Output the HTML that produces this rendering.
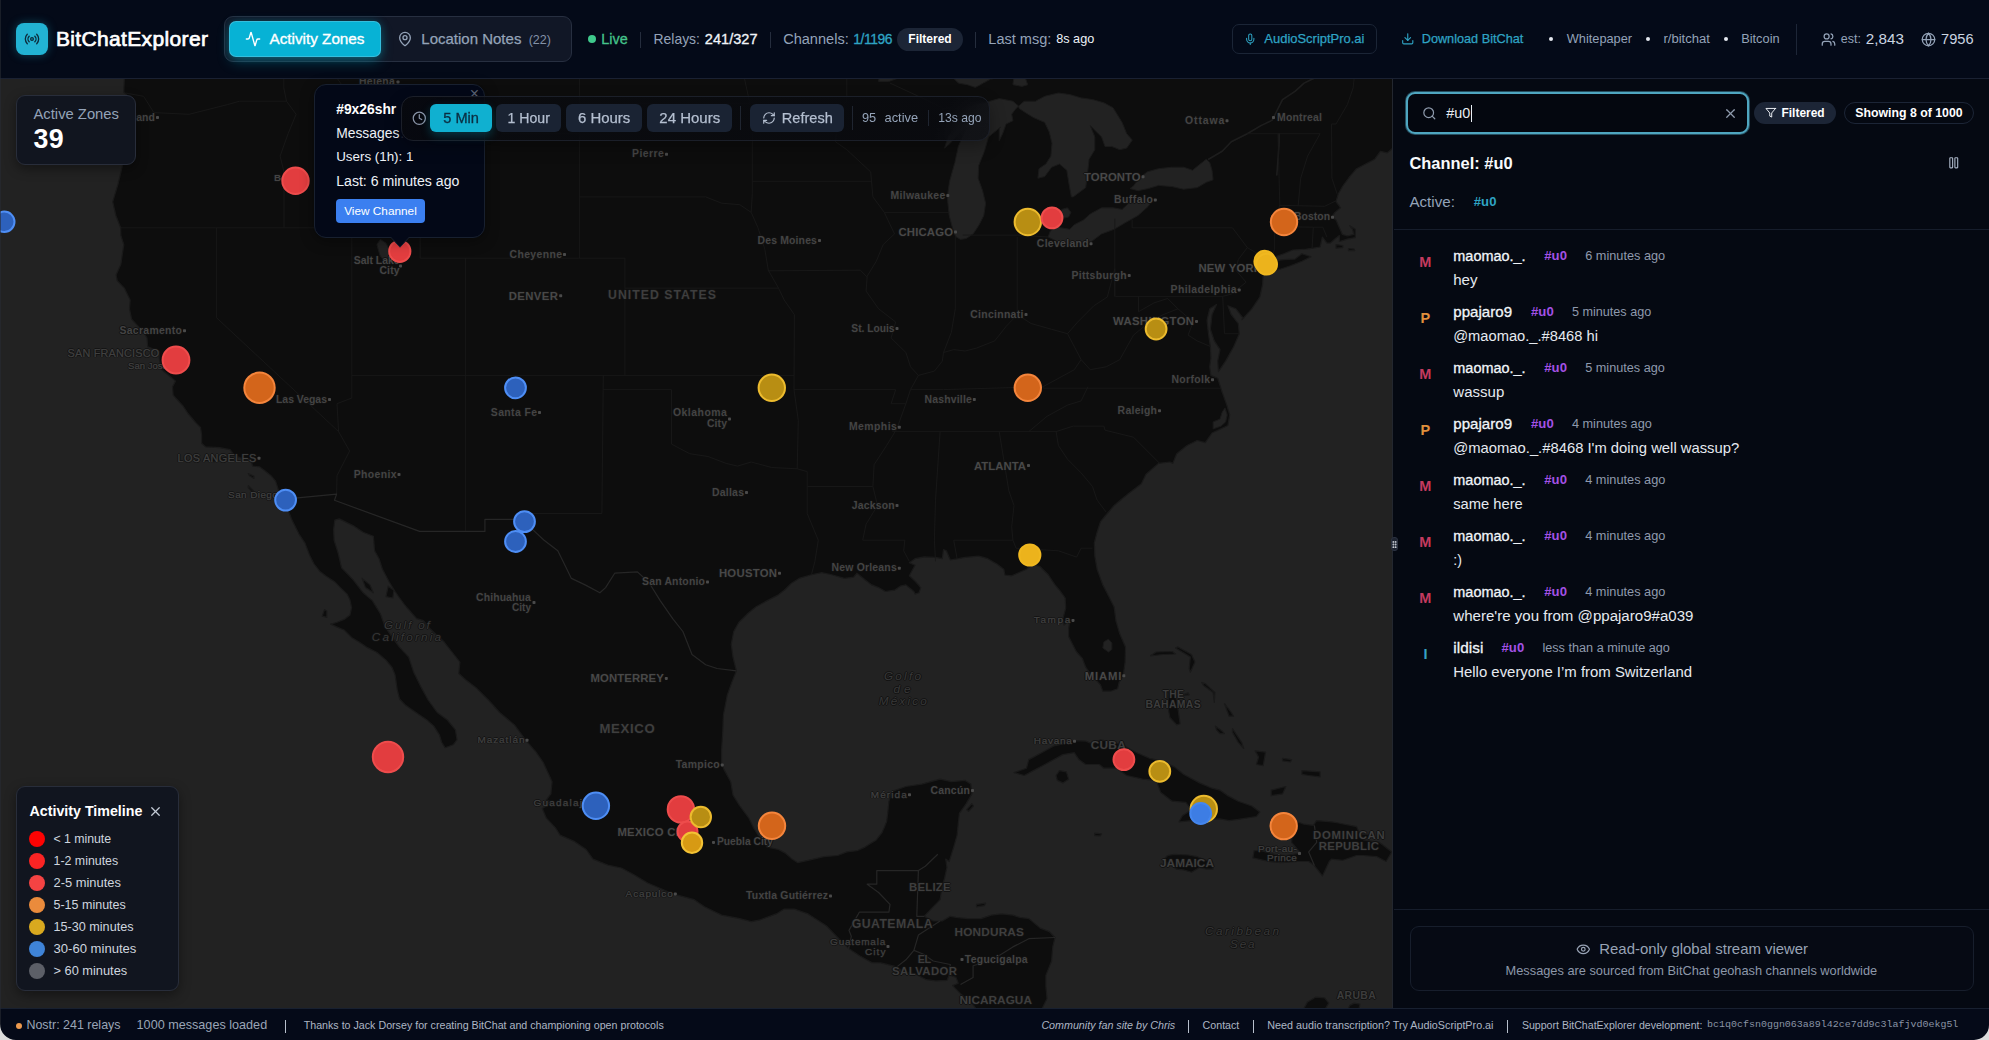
<!DOCTYPE html>
<html lang="en"><head><meta charset="utf-8"><title>BitChatExplorer</title>
<meta name="viewport" content="width=1989">
<style>
html,body{margin:0;padding:0;background:#050a18;}
body{width:1989px;height:1040px;overflow:hidden;position:relative;font-family:"Liberation Sans",sans-serif;-webkit-font-smoothing:antialiased;}
#app{position:absolute;left:0;top:0;width:1989px;height:1040px;overflow:hidden;}
.b{position:absolute;box-sizing:border-box;}
.t{position:absolute;white-space:pre;margin:0;padding:0;font-weight:400;}
.i{position:absolute;display:block;overflow:visible;}
h1,h2,p{margin:0;}
#map{position:absolute;left:0;top:79px;width:1392px;height:930px;overflow:hidden;background:#222222;}
.corner{position:absolute;width:14px;height:14px;bottom:0;}
</style></head>
<body><div id="app">
<header class="b" style="left:0;top:0;width:1989px;height:79px;background:#040a18;border-bottom:1px solid #1a2132;">
<div class="b" style="left:16.00px;top:23.00px;width:32.00px;height:32.00px;background:#22b3d3;border-radius:8px;box-shadow:0 0 10px rgba(34,179,211,.35);"><svg class="i" style="left:8.00px;top:8.00px;" width="16" height="16" viewBox="0 0 24 24" fill="none" stroke="#0c2a3a" stroke-width="2" stroke-linecap="round" stroke-linejoin="round"><path d="M16.247 7.761a6 6 0 0 1 0 8.478"/><path d="M19.075 4.933a10 10 0 0 1 0 14.134"/><path d="M4.925 19.067a10 10 0 0 1 0-14.134"/><path d="M7.753 16.239a6 6 0 0 1 0-8.478"/><circle cx="12" cy="12" r="2"/></svg></div>
<h1 class="t" style="left:55.95px;top:25.20px;font-size:21.0px;line-height:28px;color:#ffffff;letter-spacing:0.350px;-webkit-text-stroke:0.7px #ffffff;">BitChatExplorer</h1>
<div class="b" style="left:224.00px;top:16.00px;width:348.00px;height:46.00px;background:#111726;border:1px solid #272f40;border-radius:9px;box-sizing:border-box;"></div>
<div class="b" style="left:229.00px;top:21.00px;width:152.00px;height:36.00px;background:#07b2d5;border:1px solid rgba(110,205,230,.45);border-radius:7px;box-shadow:0 6px 14px -2px rgba(6,182,212,.35),0 0 8px rgba(6,182,212,.25);"></div>
<svg class="i" style="left:245.20px;top:31.20px;" width="16" height="16" viewBox="0 0 24 24" fill="none" stroke="#ffffff" stroke-width="2" stroke-linecap="round" stroke-linejoin="round"><path d="M22 12h-2.48a2 2 0 0 0-1.93 1.46l-2.35 8.36a.25.25 0 0 1-.48 0L9.24 2.18a.25.25 0 0 0-.48 0l-2.35 8.36A2 2 0 0 1 4.49 12H2"/></svg>
<span class="t" style="left:269.48px;top:29.20px;font-size:15.27px;line-height:20px;color:#ffffff;-webkit-text-stroke:0.35px #ffffff;">Activity Zones</span>
<svg class="i" style="left:397.00px;top:31.20px;" width="16" height="16" viewBox="0 0 24 24" fill="none" stroke="#94a3b8" stroke-width="2" stroke-linecap="round" stroke-linejoin="round"><path d="M20 10c0 4.993-5.539 10.193-7.399 11.799a1 1 0 0 1-1.202 0C9.539 20.193 4 14.993 4 10a8 8 0 0 1 16 0"/><circle cx="12" cy="10" r="3"/></svg>
<span class="t" style="left:421.32px;top:29.20px;font-size:15.0px;line-height:20px;color:#94a3b8;-webkit-text-stroke:0.25px #94a3b8;">Location Notes</span>
<span class="t" style="left:528.70px;top:30.60px;font-size:12.53px;line-height:18px;color:#8491a6;">(22)</span>
<div class="b" style="left:587.70px;top:35.20px;width:8.00px;height:8.00px;background:#3fc98c;border-radius:50%;"></div>
<span class="t" style="left:601.35px;top:29.20px;font-size:14.43px;line-height:20px;color:#45c48b;-webkit-text-stroke:0.3px #45c48b;">Live</span>
<div class="b" style="left:639.90px;top:31.50px;width:1.00px;height:16.00px;background:#252d3d;"></div>
<div class="b" style="left:770.00px;top:31.50px;width:1.00px;height:16.00px;background:#252d3d;"></div>
<div class="b" style="left:974.50px;top:31.50px;width:1.00px;height:16.00px;background:#252d3d;"></div>
<span class="t" style="left:653.50px;top:29.20px;font-size:13.93px;line-height:20px;color:#94a3b8;">Relays:</span>
<span class="t" style="left:704.85px;top:29.20px;font-size:14.57px;line-height:20px;color:#f1f5f9;-webkit-text-stroke:0.3px #f1f5f9;">241/327</span>
<span class="t" style="left:783.20px;top:29.20px;font-size:14.56px;line-height:20px;color:#94a3b8;">Channels:</span>
<span class="t" style="left:853.35px;top:29.20px;font-size:13.87px;line-height:20px;color:#2fa4c4;letter-spacing:-0.447px;-webkit-text-stroke:0.3px #2fa4c4;">1/1196</span>
<div class="b" style="left:897.40px;top:27.50px;width:65.20px;height:23.00px;background:#1c2536;border-radius:12px;"></div>
<span class="t" style="left:908.30px;top:29.80px;font-size:12.02px;line-height:18px;color:#ffffff;font-weight:700;">Filtered</span>
<span class="t" style="left:988.30px;top:29.20px;font-size:14.55px;line-height:20px;color:#94a3b8;">Last msg:</span>
<span class="t" style="left:1056.20px;top:30.20px;font-size:12.7px;line-height:18px;color:#eef2f7;">8s ago</span>
<div class="b" style="left:1231.50px;top:24.00px;width:145.50px;height:29.50px;border:1px solid #1b2536;border-radius:7px;box-sizing:border-box;"></div>
<svg class="i" style="left:1244.35px;top:32.75px;" width="12.5" height="12.5" viewBox="0 0 24 24" fill="none" stroke="#2fa4c4" stroke-width="2" stroke-linecap="round" stroke-linejoin="round"><path d="M12 19v3"/><path d="M19 10v2a7 7 0 0 1-14 0v-2"/><rect x="9" y="2" width="6" height="13" rx="3"/></svg>
<span class="t" style="left:1264.33px;top:29.80px;font-size:12.96px;line-height:18px;color:#2fa4c4;-webkit-text-stroke:0.25px #2fa4c4;">AudioScriptPro.ai</span>
<svg class="i" style="left:1401.05px;top:32.25px;" width="13.5" height="13.5" viewBox="0 0 24 24" fill="none" stroke="#2fa4c4" stroke-width="2" stroke-linecap="round" stroke-linejoin="round"><path d="M12 15V3"/><path d="M21 15v4a2 2 0 0 1-2 2H5a2 2 0 0 1-2-2v-4"/><path d="m7 10 5 5 5-5"/></svg>
<span class="t" style="left:1421.72px;top:29.80px;font-size:12.7px;line-height:18px;color:#2fa4c4;-webkit-text-stroke:0.25px #2fa4c4;">Download BitChat</span>
<div class="b" style="left:1549.10px;top:37.00px;width:4.00px;height:4.00px;background:#e5e9f0;border-radius:50%;"></div>
<div class="b" style="left:1645.50px;top:37.00px;width:4.00px;height:4.00px;background:#e5e9f0;border-radius:50%;"></div>
<div class="b" style="left:1723.50px;top:37.00px;width:4.00px;height:4.00px;background:#e5e9f0;border-radius:50%;"></div>
<span class="t" style="left:1566.80px;top:29.80px;font-size:12.76px;line-height:18px;color:#94a3b8;">Whitepaper</span>
<span class="t" style="left:1663.50px;top:29.80px;font-size:13.06px;line-height:18px;color:#94a3b8;">r/bitchat</span>
<span class="t" style="left:1741.20px;top:29.80px;font-size:12.8px;line-height:18px;color:#94a3b8;">Bitcoin</span>
<div class="b" style="left:1795.80px;top:23.50px;width:1.00px;height:31.50px;background:#1d2637;"></div>
<svg class="i" style="left:1821.10px;top:31.50px;" width="15" height="15" viewBox="0 0 24 24" fill="none" stroke="#94a3b8" stroke-width="2" stroke-linecap="round" stroke-linejoin="round"><path d="M16 21v-2a4 4 0 0 0-4-4H6a4 4 0 0 0-4 4v2"/><path d="M16 3.128a4 4 0 0 1 0 7.744"/><path d="M22 21v-2a4 4 0 0 0-3-3.87"/><circle cx="9" cy="7" r="4"/></svg>
<span class="t" style="left:1840.80px;top:30.00px;font-size:12.48px;line-height:18px;color:#94a3b8;">est:</span>
<span class="t" style="left:1865.80px;top:29.00px;font-size:15.23px;line-height:20px;color:#cbd5e1;letter-spacing:0.031px;">2,843</span>
<svg class="i" style="left:1921.10px;top:31.50px;" width="15" height="15" viewBox="0 0 24 24" fill="none" stroke="#94a3b8" stroke-width="2" stroke-linecap="round" stroke-linejoin="round"><circle cx="12" cy="12" r="10"/><path d="M12 2a14.5 14.5 0 0 0 0 20 14.5 14.5 0 0 0 0-20"/><path d="M2 12h20"/></svg>
<span class="t" style="left:1941.10px;top:29.00px;font-size:14.64px;line-height:20px;color:#cbd5e1;">7956</span>
</header>
<main id="map">
<svg class="i" style="left:0;top:0" width="1393" height="930" viewBox="0 0 1393 930">
<rect width="1393" height="930" fill="#222222"/>
<path d="M114.0 -113.9 L121.5 -10.9 L124.3 -0.9 L123.8 13.3 L126.5 15.6 L126.1 25.5 L126.1 38.5 L125.2 54.7 L123.8 67.5 L122.5 86.6 L117.9 105.5 L112.7 122.9 L115.9 136.5 L120.6 148.8 L120.9 156.5 L123.8 165.6 L122.0 177.7 L120.9 185.2 L116.1 196.0 L117.2 201.7 L124.3 209.1 L130.2 221.0 L129.5 229.8 L131.6 240.1 L143.6 253.2 L147.0 259.0 L147.7 267.7 L155.0 270.6 L159.5 272.9 L159.1 279.2 L161.8 290.7 L169.8 297.2 L175.5 302.1 L172.5 307.7 L173.2 316.2 L183.4 327.5 L188.0 334.5 L196.4 344.3 L200.5 348.5 L201.6 355.4 L201.6 364.3 L205.7 367.9 L219.8 368.7 L230.1 370.6 L234.2 376.1 L240.3 378.9 L250.6 380.2 L252.6 387.1 L259.7 387.9 L264.2 391.2 L271.0 396.7 L275.6 402.1 L278.6 411.6 L279.2 416.5 L282.0 420.3 L287.0 428.1 L291.5 439.9 L299.0 455.1 L305.0 464.1 L309.5 476.0 L314.1 485.0 L320.0 492.6 L325.9 497.1 L335.0 503.1 L340.9 509.1 L347.1 515.1 L350.0 521.0 L351.6 528.6 L350.0 536.0 L344.1 540.4 L336.6 543.5 L330.7 545.1 L336.6 547.9 L344.1 551.0 L351.6 558.4 L359.1 563.0 L368.0 568.9 L377.1 573.5 L386.0 581.1 L392.1 588.5 L395.1 596.0 L396.4 604.9 L397.3 610.9 L399.6 620.0 L405.3 626.0 L416.0 633.5 L426.9 641.0 L433.7 646.9 L439.4 655.9 L441.7 663.3 L445.1 668.7 L453.1 665.8 L457.0 660.8 L455.4 650.9 L447.4 641.0 L437.2 633.5 L428.1 621.0 L421.2 608.4 L413.7 593.3 L408.7 578.1 L399.2 567.9 L391.7 557.6 L384.8 547.4 L380.3 534.5 L372.3 521.6 L363.2 513.8 L353.0 500.7 L341.6 488.9 L338.2 474.4 L334.1 461.2 L333.6 450.6 L334.8 441.2 L339.3 439.9 L353.0 446.6 L363.2 453.2 L373.4 457.2 L374.6 471.8 L379.1 479.7 L382.5 490.2 L389.4 503.3 L395.1 512.5 L399.6 519.0 L406.4 528.0 L416.7 539.7 L423.5 541.7 L430.3 549.9 L444.0 562.8 L452.0 573.0 L459.9 583.1 L458.8 594.5 L465.6 600.8 L475.8 608.4 L488.4 621.0 L499.7 633.5 L514.5 645.9 L525.5 660.8 L536.1 673.2 L543.0 683.0 L548.7 695.3 L552.1 702.7 L550.9 714.9 L546.4 720.9 L552.1 723.4 L542.3 729.5 L546.4 739.2 L555.5 748.8 L560.0 756.1 L573.7 762.1 L586.2 770.5 L593.0 780.1 L607.8 786.1 L621.5 789.0 L634.0 795.7 L647.7 804.0 L664.7 811.2 L673.8 815.2 L694.3 820.7 L704.5 827.8 L721.6 836.1 L739.8 839.6 L751.2 842.7 L760.3 840.8 L776.2 834.9 L784.2 830.1 L794.4 830.1 L808.1 834.9 L826.3 846.7 L837.7 858.5 L848.6 869.6 L860.4 877.3 L871.8 883.6 L880.9 883.9 L896.8 887.9 L903.7 892.5 L915.0 894.9 L926.4 900.7 L935.5 901.9 L946.9 901.4 L949.2 896.1 L956.0 898.4 L958.3 904.2 L952.6 906.6 L960.5 914.7 L971.9 924.1 L978.7 933.4 L994.7 951.9 L1012.9 963.5 L1047.0 963.5 L1041.3 951.9 L1042.5 938.0 L1042.5 928.7 L1047.0 919.4 L1045.9 907.7 L1045.9 896.1 L1051.6 882.0 L1052.7 867.9 L1055.0 858.5 L1049.3 852.6 L1040.2 849.1 L1028.8 839.6 L1019.7 838.4 L1012.9 836.1 L1001.5 834.9 L991.3 836.1 L981.0 839.6 L967.4 839.6 L956.0 838.4 L950.3 837.3 L942.3 842.0 L933.2 842.0 L924.1 837.3 L931.0 830.1 L940.1 820.7 L942.3 806.4 L944.6 799.2 L946.9 788.5 L945.7 780.1 L949.2 782.5 L953.7 768.1 L957.1 756.1 L958.3 744.0 L959.4 734.3 L966.2 724.6 L971.9 714.9 L970.8 705.1 L965.1 701.4 L951.4 702.7 L940.1 700.2 L921.9 705.1 L905.9 707.5 L892.3 712.4 L888.9 722.2 L887.7 734.3 L886.6 742.8 L882.0 753.7 L876.3 760.9 L865.0 768.1 L857.0 771.7 L846.8 772.9 L837.7 776.5 L824.0 777.7 L808.1 781.3 L797.8 783.7 L792.1 780.1 L785.3 774.1 L778.5 770.5 L767.1 768.1 L759.6 758.5 L753.5 748.8 L748.9 739.2 L739.8 727.0 L733.0 716.1 L730.7 702.7 L723.9 690.4 L721.6 684.3 L721.6 670.7 L722.7 653.4 L723.4 636.0 L727.3 615.9 L731.8 603.4 L736.4 591.8 L733.0 578.1 L731.2 565.3 L733.7 552.5 L738.7 543.5 L747.8 534.5 L755.7 528.0 L764.8 522.9 L777.4 516.4 L784.2 511.2 L791.0 504.6 L799.0 499.4 L810.4 496.0 L821.7 493.7 L830.8 495.5 L844.5 499.4 L853.6 498.1 L857.0 494.2 L865.0 500.7 L871.8 505.9 L878.6 508.6 L885.4 512.5 L894.5 511.2 L900.2 507.2 L905.9 505.9 L913.9 512.5 L915.0 515.1 L919.1 513.8 L920.7 508.6 L915.0 502.0 L909.3 496.8 L912.8 490.2 L915.0 486.3 L909.3 483.7 L915.0 479.7 L924.1 477.9 L935.5 478.4 L942.3 479.7 L943.5 470.5 L946.4 471.8 L950.3 481.0 L958.3 479.7 L965.1 478.4 L978.7 477.1 L987.8 479.7 L996.9 485.0 L1003.8 490.2 L1004.9 496.0 L1011.7 496.8 L1017.4 494.2 L1026.5 490.2 L1032.2 485.5 L1040.2 487.6 L1048.1 495.5 L1055.0 505.9 L1059.5 511.2 L1065.2 519.0 L1065.7 529.3 L1062.9 539.7 L1064.1 546.1 L1069.8 540.9 L1068.6 549.9 L1068.6 557.6 L1073.2 566.6 L1076.6 573.0 L1082.3 579.3 L1085.7 588.2 L1090.2 594.5 L1100.5 605.9 L1102.8 612.2 L1110.7 612.2 L1117.6 609.7 L1119.1 603.4 L1123.2 596.6 L1125.1 583.1 L1125.5 567.9 L1119.8 555.1 L1116.0 542.2 L1114.1 528.0 L1109.6 519.0 L1102.8 505.9 L1097.1 490.2 L1094.8 477.1 L1094.3 463.9 L1097.1 453.2 L1100.5 442.6 L1107.3 434.5 L1114.1 426.5 L1122.1 419.7 L1128.9 414.3 L1141.4 404.8 L1146.0 395.3 L1158.5 384.4 L1169.9 383.0 L1172.8 384.4 L1176.7 374.7 L1187.0 366.5 L1197.2 361.5 L1205.2 363.7 L1212.0 354.0 L1227.9 346.5 L1229.7 335.9 L1226.8 326.1 L1222.2 313.4 L1217.7 299.2 L1210.9 296.4 L1209.7 287.8 L1210.9 279.2 L1210.4 267.7 L1208.6 256.1 L1207.0 241.5 L1209.7 229.8 L1216.5 225.4 L1212.0 235.7 L1210.4 250.3 L1214.3 261.9 L1220.0 270.6 L1217.7 282.1 L1218.4 292.7 L1225.6 282.1 L1233.6 267.7 L1239.3 254.7 L1238.2 244.5 L1231.3 235.7 L1227.9 226.9 L1235.9 229.8 L1242.7 238.6 L1242.0 240.7 L1251.8 229.8 L1259.8 218.0 L1262.5 206.1 L1263.2 195.7 L1258.6 192.7 L1262.1 189.7 L1265.5 192.1 L1276.8 191.2 L1290.5 186.7 L1301.9 182.2 L1311.0 177.7 L1301.9 174.7 L1295.0 180.1 L1283.7 180.7 L1272.3 182.2 L1271.2 179.2 L1283.7 174.7 L1292.8 171.0 L1306.4 170.1 L1313.3 169.2 L1320.1 168.0 L1322.4 158.0 L1326.9 164.1 L1330.3 164.1 L1333.7 161.0 L1339.4 156.5 L1339.4 162.5 L1347.4 160.1 L1355.3 158.6 L1355.3 150.3 L1349.7 146.7 L1352.6 150.3 L1353.8 155.5 L1347.4 156.8 L1342.4 155.5 L1339.4 148.8 L1336.0 141.1 L1331.5 138.1 L1334.9 133.4 L1340.6 128.8 L1336.0 122.6 L1338.3 114.8 L1342.8 107.0 L1349.7 97.6 L1356.5 89.7 L1365.6 85.0 L1374.7 80.2 L1380.4 72.3 L1387.2 73.9 L1392.9 69.1 L1404.3 67.5 L1422.5 61.1 L1433.9 48.2 L1490.7 22.2 L1581.8 -113.9Z M1014.0 693.6 L1026.5 689.2 L1028.8 680.6 L1042.5 673.2 L1053.8 667.0 L1065.2 664.5 L1073.0 661.6 L1085.7 662.1 L1091.4 664.5 L1100.5 660.8 L1113.0 663.3 L1124.4 667.0 L1135.8 673.2 L1149.4 679.3 L1160.8 681.8 L1174.4 687.9 L1183.5 695.3 L1190.4 699.0 L1199.5 703.9 L1210.9 708.8 L1220.0 711.2 L1226.8 716.1 L1238.2 722.2 L1251.8 727.0 L1259.8 733.1 L1256.4 737.5 L1238.2 740.4 L1229.1 741.6 L1220.0 739.9 L1204.0 740.4 L1179.0 742.8 L1182.4 736.7 L1191.5 730.7 L1185.8 723.4 L1172.2 722.2 L1160.8 713.6 L1156.2 701.4 L1142.6 700.2 L1126.7 696.5 L1116.4 689.2 L1103.9 689.2 L1099.3 685.5 L1085.7 685.5 L1078.9 680.6 L1074.3 673.7 L1062.9 675.6 L1051.6 681.8 L1042.5 686.7 L1033.4 691.6 L1024.3 696.5Z M1062.9 703.9 L1068.6 700.2 L1066.4 692.9 L1059.5 691.6 L1056.1 696.5 L1057.3 701.4Z M1276.8 744.0 L1290.5 740.4 L1304.1 745.2 L1313.3 746.4 L1316.7 741.6 L1331.5 742.8 L1338.3 744.0 L1356.5 747.6 L1359.9 754.9 L1372.4 756.1 L1363.3 760.9 L1379.2 763.3 L1391.8 772.9 L1386.1 782.5 L1377.0 777.7 L1363.3 776.5 L1356.5 776.5 L1342.8 781.3 L1331.5 780.1 L1329.2 782.5 L1322.4 796.9 L1314.4 786.6 L1308.7 782.5 L1297.3 782.5 L1281.4 783.7 L1268.9 782.5 L1252.9 778.9 L1254.1 771.7 L1260.9 771.7 L1274.6 775.3 L1285.9 776.5 L1300.7 774.1 L1291.6 763.3 L1292.8 752.5 L1285.9 747.6 L1276.8 746.4Z M1164.2 780.1 L1167.6 776.5 L1174.4 775.3 L1188.1 776.0 L1197.2 777.7 L1206.3 781.3 L1212.0 783.7 L1213.1 790.2 L1206.3 790.2 L1199.5 788.5 L1191.5 793.3 L1183.5 790.9 L1176.7 790.2 L1171.0 786.1 L1165.3 782.5Z M1168.8 613.4 L1172.2 612.2 L1176.7 621.0 L1178.5 633.5 L1180.1 644.7 L1176.7 645.9 L1169.9 638.5 L1167.6 626.0Z M1150.5 576.8 L1156.2 573.0 L1172.2 572.5 L1175.6 575.0 L1163.1 575.5Z M1177.9 567.9 L1191.5 575.5 L1194.9 583.1 L1190.4 593.3 L1189.2 589.5 L1190.4 578.1 L1175.6 569.1Z M1201.7 603.4 L1205.2 604.6 L1214.9 613.4 L1214.3 623.5 L1213.1 613.4 L1203.6 606.4Z M1182.4 615.9 L1188.1 613.9 L1189.2 615.9 L1183.5 616.5Z M1224.5 624.7 L1231.3 633.5 L1233.6 637.2 L1229.1 637.2 L1226.8 631.0Z M1232.5 649.7 L1241.6 663.3 L1243.8 669.5 L1238.2 663.3 L1232.5 653.4Z M1215.4 647.2 L1222.2 652.1 L1224.5 654.6 L1220.0 654.6 L1216.5 650.9Z M1255.2 671.9 L1265.5 673.2 L1263.2 686.7 L1256.4 685.5 L1258.6 678.1Z M1271.2 711.2 L1285.9 707.5 L1282.5 714.9 L1271.2 716.6Z M1282.5 679.3 L1291.6 680.6 L1290.5 683.0 L1282.5 681.8Z M1301.9 691.6 L1320.1 692.9 L1320.1 697.8 L1308.7 696.5 L1301.9 695.3Z M971.9 724.6 L973.5 727.0 L968.5 732.4 L966.7 730.7Z M388.2 507.2 L393.9 511.2 L392.8 519.0 L386.0 517.7Z M362.1 499.4 L370.0 505.9 L373.4 513.8 L365.5 508.6Z M324.5 530.6 L326.8 531.9 L326.8 538.4 L322.2 537.1Z M1336.0 165.6 L1342.8 166.5 L1342.8 168.6 L1336.0 169.2Z M1348.5 169.5 L1354.2 170.1 L1354.7 171.6 L1348.5 171.6Z M218.7 378.3 L226.7 379.4 L225.5 381.1 L219.2 380.8Z M211.4 379.4 L216.4 380.8 L214.2 383.0 L211.4 381.6Z M248.3 394.5 L254.0 397.2 L254.0 399.4 L249.4 396.7Z M248.3 406.7 L253.3 411.6 L251.7 412.4 L248.3 408.9Z M1094.8 754.1 L1101.6 754.9 L1100.5 756.8 L1094.8 756.6Z M1353.1 914.3 L1356.5 915.9 L1356.9 918.9 L1353.1 918.2Z M1354.2 924.1 L1359.9 925.2 L1358.8 931.0 L1361.0 940.3 L1365.6 951.9 L1347.4 951.9 L1349.7 938.0 L1347.4 932.2 L1349.7 926.4Z M1315.5 918.2 L1324.6 918.9 L1328.7 924.1 L1324.6 931.0 L1311.0 940.3 L1292.8 945.0 L1303.0 931.0 L1307.6 922.9Z M985.6 824.2 L976.5 825.4 L976.5 827.8 L984.4 826.6Z" fill="#0d0d0d" stroke="#1a1a1a" stroke-width="1.2" stroke-linejoin="round"/>
<path d="M960.5 160.4 L955.5 157.4 L953.3 151.9 L949.2 136.5 L947.3 117.9 L949.6 102.3 L954.9 83.4 L958.3 67.5 L961.7 59.5 L967.8 46.6 L958.3 54.7 L950.3 64.3 L944.6 69.1 L948.0 57.9 L959.4 41.7 L966.2 30.4 L976.5 25.5 L984.4 23.8 L999.2 19.6 L1012.9 22.2 L1018.6 27.1 L1015.2 30.4 L1011.7 35.3 L1012.9 41.7 L1006.1 45.0 L1002.6 54.7 L999.2 61.7 L999.2 49.8 L1000.4 48.2 L988.5 57.9 L984.4 72.3 L978.7 86.6 L978.1 99.2 L982.6 111.7 L985.6 124.2 L983.8 136.5 L979.2 145.7 L973.1 154.9 L966.2 159.5Z M1018.6 27.1 L1024.3 22.2 L1035.6 22.2 L1044.7 17.3 L1058.4 14.0 L1069.8 15.6 L1081.1 18.9 L1092.5 20.6 L1103.9 23.8 L1113.0 28.7 L1122.1 43.4 L1126.7 54.7 L1132.3 61.1 L1126.7 69.1 L1119.8 70.7 L1111.9 67.5 L1105.0 67.5 L1101.6 57.9 L1090.2 46.6 L1094.8 57.9 L1094.8 70.7 L1089.1 80.2 L1087.5 94.5 L1085.7 108.6 L1073.2 117.9 L1071.4 117.9 L1069.1 105.5 L1066.8 91.3 L1059.5 85.0 L1051.6 88.2 L1044.7 97.6 L1037.9 99.2 L1039.0 89.7 L1045.9 85.0 L1050.9 77.1 L1052.0 64.3 L1049.3 53.1 L1044.7 43.4 L1033.4 38.5 L1025.4 33.6 L1019.2 29.4Z M1048.1 158.0 L1060.7 164.1 L1069.8 165.6 L1081.1 164.1 L1091.4 162.5 L1101.6 154.9 L1114.1 150.3 L1124.4 144.2 L1138.0 136.5 L1148.3 127.3 L1151.7 121.7 L1142.6 122.6 L1128.9 124.2 L1122.1 130.4 L1113.0 128.8 L1101.6 128.8 L1090.2 135.0 L1083.4 141.1 L1074.3 145.7 L1069.8 150.3 L1060.7 148.8 L1056.1 147.3 L1050.4 151.9Z M1061.8 139.6 L1068.6 138.1 L1070.9 133.4 L1067.5 128.8 L1061.8 130.4 L1060.2 135.0Z M1130.1 109.5 L1133.5 107.0 L1139.2 99.2 L1147.1 92.9 L1158.5 89.7 L1172.2 88.2 L1183.5 88.2 L1192.6 91.3 L1198.3 86.6 L1206.3 80.2 L1209.7 83.4 L1212.0 91.3 L1213.1 100.8 L1206.3 103.3 L1197.2 108.6 L1183.5 110.2 L1172.2 107.6 L1158.5 106.4 L1148.3 109.5 L1138.0 111.7Z M851.3 -0.9 L865.0 -4.2 L879.8 -9.2 L878.6 2.4 L888.9 2.4 L912.8 -5.9 L931.0 -17.5 L949.2 -25.9 L944.6 -17.5 L934.4 -4.2 L946.9 -7.5 L958.3 4.1 L967.4 5.7 L975.3 8.4 L983.3 4.1 L990.6 0.1 L1006.1 -2.5 L1014.0 -3.2 L1012.9 5.7 L1022.0 7.4 L1027.7 5.7 L1022.0 -10.9 L990.1 -44.5 L944.6 -78.9 L899.1 -44.5Z M389.4 183.7 L391.7 179.2 L389.8 171.6 L386.0 164.1 L380.3 160.4 L376.9 165.6 L379.8 176.2 L384.4 182.2Z M1108.5 573.0 L1111.9 570.4 L1111.9 564.0 L1108.5 560.2 L1103.9 562.8 L1102.8 569.1Z M1213.1 349.9 L1221.1 347.1 L1225.6 342.9 L1227.2 335.9 L1225.0 328.9 L1222.2 333.1 L1220.0 340.1 L1213.1 342.9Z" fill="#222222" stroke="#1a1a1a" stroke-width="1" stroke-linejoin="round"/>
<path d="M1208.6 80.2 L1222.2 72.3 L1231.3 62.7 L1247.3 54.7 L1260.9 46.6 L1272.3 41.1 L1276.8 32.0 L1282.5 20.6 L1295.0 12.3 L1304.1 4.1 L1317.8 -2.5 L1336.0 -10.9 M1276.8 96.0 L1278.0 80.2 L1279.1 64.3 L1279.1 54.7" fill="none" stroke="#222222" stroke-width="1.6" stroke-linejoin="round" stroke-linecap="round" opacity="0.8"/>
<path d="M120.9 148.8 L420.1 148.8 M125.4 14.0 L143.6 17.3 L153.9 33.6 L189.1 35.3 L227.8 25.5 L239.6 22.2 L286.5 22.2 M283.8 9.0 L286.5 22.2 L296.1 35.3 L288.1 54.7 L280.1 77.1 L284.0 92.9 L284.0 148.8 M283.8 9.0 L283.8 -10.9 M216.4 148.8 L216.4 238.6 L338.6 352.6 M351.8 148.8 L351.8 319.0 L337.0 324.7 L338.6 352.6 L349.6 372.0 L337.0 396.7 L336.6 415.1 M351.8 296.4 L794.0 296.4 M465.6 179.2 L465.6 452.4 M420.1 148.8 L420.1 54.7 M420.1 179.2 L420.1 148.8 M420.1 179.2 L624.9 179.2 M420.1 54.7 L579.4 54.7 M579.4 -0.9 L579.4 179.2 M420.1 70.7 L409.9 69.1 L398.5 62.7 M420.1 70.7 L412.1 64.3 L391.7 69.1 L380.3 72.3 L370.0 61.1 L353.0 38.5 L341.6 32.0 L343.9 9.0 L337.0 -0.9 L323.4 -10.9 M579.4 24.2 L749.8 24.2 M579.4 117.9 L705.7 117.9 L721.6 124.2 L739.8 125.7 L751.2 133.4 M624.9 179.2 L624.9 296.4 M624.9 209.1 L778.5 209.1 M603.3 296.4 L601.9 434.5 M601.9 434.5 L521.4 434.5 M603.3 310.6 L671.5 310.6 L671.5 365.1 L689.7 374.7 L708.0 377.5 L726.2 384.4 L737.5 387.1 L751.2 383.0 L771.7 388.5 L797.2 389.8 M778.5 209.1 L784.2 221.0 L794.4 235.7 L794.0 310.6 L798.3 341.5 L797.2 389.8 L807.2 392.6 L807.2 407.5 L807.2 434.5 L818.3 461.2 L814.9 482.4 L811.5 495.5 M794.0 310.6 L895.7 310.6 L891.1 324.7 L905.9 324.7 M807.2 407.5 L872.9 407.5 M752.3 102.3 L871.3 102.3 M767.8 191.8 L860.4 191.2 L866.8 197.8 M744.4 -0.9 L749.8 24.2 L752.3 45.0 L752.3 102.3 L752.3 114.8 L751.2 133.4 L758.0 148.8 L764.8 170.1 L768.3 191.2 L778.5 209.1 M846.8 -0.9 L846.8 22.2 L833.1 35.3 L836.5 54.7 L835.4 62.7 L846.8 70.7 L870.7 92.9 L872.9 117.9 L884.3 133.4 L894.5 154.9 L883.2 165.6 L876.3 182.2 L867.2 197.2 L866.1 212.1 L878.6 229.8 L895.7 243.0 L891.1 259.0 L905.9 273.5 L910.5 287.8 L918.4 296.4 L910.5 310.6 L905.9 324.7 L896.8 349.9 L886.6 366.5 L874.1 385.7 L872.9 407.5 L877.5 426.5 L866.1 445.2 L862.7 461.2 L904.8 461.2 L903.7 471.8 L909.3 482.4 M918.4 296.4 L934.4 292.1 L942.3 282.1 L943.5 273.5 L953.7 270.6 L965.1 272.0 L976.5 269.1 L994.7 261.9 L1006.1 247.4 L1017.4 235.7 L1031.1 244.5 L1051.6 250.3 L1067.5 254.7 L1077.7 243.0 L1093.7 226.9 L1107.3 218.0 L1114.8 189.7 M955.3 158.0 L955.3 229.8 L951.4 253.2 L943.5 273.5 M1017.2 158.0 L1017.2 235.7 M962.8 156.1 L1017.2 156.1 L1048.1 158.0 M884.3 133.4 L949.2 133.4 M1132.1 140.5 L1132.1 148.8 L1232.5 148.8 L1247.3 168.6 L1238.2 180.7 L1235.9 191.2 L1246.1 203.2 L1231.3 215.1 L1222.7 217.4 L1114.8 217.4 L1114.8 139.6 M1114.8 189.7 L1114.8 217.4 M1247.3 168.6 L1265.5 179.2 M1271.2 179.2 L1274.6 170.1 L1274.6 147.3 L1279.8 125.7 L1279.1 99.2 L1278.0 54.7 M1247.3 54.7 L1320.1 54.7 M1279.8 126.3 L1324.6 127.3 L1335.6 122.0 M1274.6 147.6 L1313.3 148.2 L1322.8 148.2 L1326.9 158.0 M1313.3 148.2 L1312.1 169.2 M1298.2 126.3 L1300.7 99.2 L1307.6 77.1 L1320.1 54.7 M1337.1 114.8 L1331.9 99.2 L1331.5 45.0 L1336.0 45.0 L1347.4 25.5 L1353.1 9.0 L1354.2 -0.9 M1220.6 309.2 L1043.1 309.2 L1043.1 307.7 L943.5 310.6 L910.5 310.6 M1088.0 307.7 L1081.1 321.9 L1067.5 326.1 L1047.0 337.3 L1028.8 352.6 M892.3 352.6 L1056.1 352.6 M940.1 352.6 L935.5 421.1 L934.4 461.2 L935.5 482.4 M999.2 352.6 L1008.8 411.6 L1014.0 426.5 L1011.7 447.9 L1012.9 461.2 L1016.1 469.2 L1058.4 471.8 L1076.6 478.1 L1081.1 469.2 L1092.5 469.2 M953.7 461.2 L1012.9 461.2 M953.7 461.2 L957.1 479.7 M1056.1 352.6 L1058.4 366.5 L1067.5 380.2 L1081.1 393.9 L1092.5 407.5 L1097.1 421.1 L1106.2 433.2 M1073.2 347.1 L1103.9 347.1 L1105.0 351.2 L1133.5 358.2 L1159.7 384.4 M1056.1 352.6 L1073.2 347.1 M1043.1 307.7 L1074.3 290.7 L1081.1 280.6 L1090.2 290.7 L1106.2 287.8 L1119.8 280.6 L1133.5 256.1 L1149.4 243.0 L1163.1 235.7 L1177.9 229.8 L1188.1 238.6 L1193.8 241.5 L1188.1 256.1 L1197.2 261.9 L1210.9 267.7 M1067.5 254.7 L1081.1 280.6 M1138.5 217.4 L1138.5 232.7 L1154.0 223.9 L1167.6 219.5 L1177.9 229.8 M1222.7 217.4 L1224.5 254.7 L1239.3 254.7 M890.0 4.1 L921.9 18.9 L942.3 28.7 L948.0 41.7 L953.7 51.4" fill="none" stroke="#181818" stroke-width="0.9" stroke-linejoin="round"/>
<path d="M282.0 420.3 L336.6 415.1 L334.5 421.3 L419.6 452.4 L484.9 452.4 L484.9 440.4 L523.0 440.4 L532.7 450.6 L544.1 461.2 L557.8 471.8 L566.9 490.2 L571.4 499.4 L585.1 505.9 L599.9 513.8 L605.6 508.6 L614.7 494.2 L637.4 492.9 L648.8 503.3 L660.2 521.6 L672.7 539.7 L682.9 552.5 L692.0 575.5 L705.7 585.7 L717.1 589.5 L736.4 591.8 M848.6 869.6 L851.3 857.3 L849.0 851.4 L859.3 833.2 L888.9 833.2 L890.0 825.4 L878.6 813.5 L867.2 805.2 L876.8 805.2 L876.8 791.6 L918.4 791.6 L925.3 787.3 L937.8 775.3 M918.4 791.6 L916.8 837.3 L924.1 837.3 M940.1 842.0 L918.4 856.1 L913.9 871.4 L905.9 880.8 L896.8 887.9 M913.9 871.4 L923.0 875.0 L933.2 882.0 L950.3 885.5 L949.2 896.1 M960.5 905.4 L973.1 898.4 L973.1 886.7 L992.4 880.8 L1012.9 867.9 L1028.8 859.7 L1055.0 858.5 M1314.4 746.4 L1316.7 763.3 L1308.7 772.9 L1314.4 786.6" fill="none" stroke="#262626" stroke-width="1.2" stroke-linejoin="round"/>
<rect x="396.5" y="1.5" width="3" height="3" rx="0.8" fill="#4a4a4a"/>
<rect x="156.0" y="37.0" width="3" height="3" rx="0.8" fill="#4a4a4a"/>
<rect x="665.0" y="73.8" width="3" height="3" rx="0.8" fill="#4a4a4a"/>
<rect x="563.0" y="174.0" width="3" height="3" rx="0.8" fill="#4a4a4a"/>
<rect x="399.0" y="185.5" width="3" height="3" rx="0.8" fill="#4a4a4a"/>
<rect x="559.2" y="215.3" width="3" height="3" rx="0.8" fill="#4a4a4a"/>
<rect x="183.0" y="250.3" width="3" height="3" rx="0.8" fill="#4a4a4a"/>
<rect x="328.0" y="319.0" width="3" height="3" rx="0.8" fill="#4a4a4a"/>
<rect x="538.0" y="332.0" width="3" height="3" rx="0.8" fill="#4a4a4a"/>
<rect x="728.0" y="338.5" width="3" height="3" rx="0.8" fill="#4a4a4a"/>
<rect x="257.5" y="377.8" width="3" height="3" rx="0.8" fill="#4a4a4a"/>
<rect x="397.5" y="394.0" width="3" height="3" rx="0.8" fill="#4a4a4a"/>
<rect x="1225.5" y="40.2" width="3" height="3" rx="0.8" fill="#4a4a4a"/>
<rect x="1272.0" y="37.0" width="3" height="3" rx="0.8" fill="#4a4a4a"/>
<rect x="1141.5" y="96.3" width="3" height="3" rx="0.8" fill="#4a4a4a"/>
<rect x="946.3" y="115.1" width="3" height="3" rx="0.8" fill="#4a4a4a"/>
<rect x="1153.8" y="119.5" width="3" height="3" rx="0.8" fill="#4a4a4a"/>
<rect x="954.0" y="151.5" width="3" height="3" rx="0.8" fill="#4a4a4a"/>
<rect x="818.0" y="160.0" width="3" height="3" rx="0.8" fill="#4a4a4a"/>
<rect x="1089.5" y="163.2" width="3" height="3" rx="0.8" fill="#4a4a4a"/>
<rect x="1331.0" y="136.7" width="3" height="3" rx="0.8" fill="#4a4a4a"/>
<rect x="1127.7" y="195.1" width="3" height="3" rx="0.8" fill="#4a4a4a"/>
<rect x="1237.7" y="209.5" width="3" height="3" rx="0.8" fill="#4a4a4a"/>
<rect x="1024.5" y="234.1" width="3" height="3" rx="0.8" fill="#4a4a4a"/>
<rect x="895.5" y="248.1" width="3" height="3" rx="0.8" fill="#4a4a4a"/>
<rect x="1195.0" y="240.9" width="3" height="3" rx="0.8" fill="#4a4a4a"/>
<rect x="1211.0" y="299.2" width="3" height="3" rx="0.8" fill="#4a4a4a"/>
<rect x="972.8" y="319.0" width="3" height="3" rx="0.8" fill="#4a4a4a"/>
<rect x="1158.0" y="330.2" width="3" height="3" rx="0.8" fill="#4a4a4a"/>
<rect x="897.8" y="346.8" width="3" height="3" rx="0.8" fill="#4a4a4a"/>
<rect x="1027.0" y="385.0" width="3" height="3" rx="0.8" fill="#4a4a4a"/>
<rect x="745.0" y="412.0" width="3" height="3" rx="0.8" fill="#4a4a4a"/>
<rect x="895.5" y="425.0" width="3" height="3" rx="0.8" fill="#4a4a4a"/>
<rect x="706.0" y="501.5" width="3" height="3" rx="0.8" fill="#4a4a4a"/>
<rect x="532.5" y="522.0" width="3" height="3" rx="0.8" fill="#4a4a4a"/>
<rect x="664.8" y="597.9" width="3" height="3" rx="0.8" fill="#4a4a4a"/>
<rect x="525.5" y="659.8" width="3" height="3" rx="0.8" fill="#4a4a4a"/>
<rect x="720.7" y="684.5" width="3" height="3" rx="0.8" fill="#4a4a4a"/>
<rect x="712.0" y="761.9" width="3" height="3" rx="0.8" fill="#4a4a4a"/>
<rect x="673.8" y="813.4" width="3" height="3" rx="0.8" fill="#4a4a4a"/>
<rect x="778.0" y="492.8" width="3" height="3" rx="0.8" fill="#4a4a4a"/>
<rect x="897.8" y="487.8" width="3" height="3" rx="0.8" fill="#4a4a4a"/>
<rect x="1071.5" y="539.9" width="3" height="3" rx="0.8" fill="#4a4a4a"/>
<rect x="1122.3" y="595.2" width="3" height="3" rx="0.8" fill="#4a4a4a"/>
<rect x="1073.0" y="660.7" width="3" height="3" rx="0.8" fill="#4a4a4a"/>
<rect x="908.0" y="714.2" width="3" height="3" rx="0.8" fill="#4a4a4a"/>
<rect x="971.0" y="710.1" width="3" height="3" rx="0.8" fill="#4a4a4a"/>
<rect x="1298.0" y="773.0" width="3" height="3" rx="0.8" fill="#4a4a4a"/>
<rect x="829.0" y="815.5" width="3" height="3" rx="0.8" fill="#4a4a4a"/>
<rect x="886.5" y="866.0" width="3" height="3" rx="0.8" fill="#4a4a4a"/>
<rect x="960.5" y="879.0" width="3" height="3" rx="0.8" fill="#4a4a4a"/>
</svg>
<span class="t" style="left:359.00px;top:-4.40px;font-size:10.42px;line-height:14px;color:#444444;letter-spacing:0.344px;font-weight:700;text-shadow:-1px 0 #121212,1px 0 #121212,0 -1px #121212,0 1px #121212;">Helena</span>
<span class="t" style="left:112.00px;top:31.50px;font-size:10.42px;line-height:14px;color:#444444;letter-spacing:0.099px;font-weight:700;text-shadow:-1px 0 #121212,1px 0 #121212,0 -1px #121212,0 1px #121212;">Portland</span>
<span class="t" style="left:274.00px;top:91.70px;font-size:9.82px;line-height:14px;color:#444444;letter-spacing:-0.178px;font-weight:700;text-shadow:-1px 0 #121212,1px 0 #121212,0 -1px #121212,0 1px #121212;">Boise</span>
<span class="t" style="left:632.00px;top:68.30px;font-size:10.42px;line-height:14px;color:#444444;letter-spacing:0.481px;font-weight:700;text-shadow:-1px 0 #121212,1px 0 #121212,0 -1px #121212,0 1px #121212;">Pierre</span>
<span class="t" style="left:509.60px;top:168.50px;font-size:10.42px;line-height:14px;color:#444444;letter-spacing:0.370px;font-weight:700;text-shadow:-1px 0 #121212,1px 0 #121212,0 -1px #121212,0 1px #121212;">Cheyenne</span>
<span class="t" style="left:353.80px;top:174.80px;font-size:10.42px;line-height:14px;color:#444444;letter-spacing:0.007px;font-weight:700;text-shadow:-1px 0 #121212,1px 0 #121212,0 -1px #121212,0 1px #121212;">Salt Lake</span>
<span class="t" style="left:379.40px;top:185.20px;font-size:10.42px;line-height:14px;color:#444444;letter-spacing:0.169px;font-weight:700;text-shadow:-1px 0 #121212,1px 0 #121212,0 -1px #121212,0 1px #121212;">City</span>
<span class="t" style="left:508.70px;top:209.80px;font-size:11.33px;line-height:14px;color:#484848;letter-spacing:0.411px;font-weight:700;text-shadow:-1px 0 #121212,1px 0 #121212,0 -1px #121212,0 1px #121212;">DENVER</span>
<span class="t" style="left:608.00px;top:209.30px;font-size:12.24px;line-height:14px;color:#3e3e3e;letter-spacing:1.044px;font-weight:700;text-shadow:-1px 0 #121212,1px 0 #121212,0 -1px #121212,0 1px #121212;">UNITED STATES</span>
<span class="t" style="left:119.40px;top:244.80px;font-size:10.42px;line-height:14px;color:#444444;letter-spacing:0.333px;font-weight:700;text-shadow:-1px 0 #121212,1px 0 #121212,0 -1px #121212,0 1px #121212;">Sacramento</span>
<span class="t" style="left:67.53px;top:266.80px;font-size:10.88px;line-height:14px;color:#404040;letter-spacing:0.193px;-webkit-text-stroke:0.25px #404040;text-shadow:-1px 0 #121212,1px 0 #121212,0 -1px #121212,0 1px #121212;">SAN FRANCISCO</span>
<span class="t" style="left:128.12px;top:279.80px;font-size:9.53px;line-height:14px;color:#414141;-webkit-text-stroke:0.25px #414141;text-shadow:-1px 0 #121212,1px 0 #121212,0 -1px #121212,0 1px #121212;">San Jose</span>
<span class="t" style="left:276.00px;top:313.50px;font-size:10.42px;line-height:14px;color:#444444;letter-spacing:0.006px;font-weight:700;text-shadow:-1px 0 #121212,1px 0 #121212,0 -1px #121212,0 1px #121212;">Las Vegas</span>
<span class="t" style="left:490.80px;top:326.50px;font-size:10.42px;line-height:14px;color:#444444;letter-spacing:0.393px;font-weight:700;text-shadow:-1px 0 #121212,1px 0 #121212,0 -1px #121212,0 1px #121212;">Santa Fe</span>
<span class="t" style="left:673.00px;top:327.40px;font-size:10.42px;line-height:14px;color:#444444;letter-spacing:0.495px;font-weight:700;text-shadow:-1px 0 #121212,1px 0 #121212,0 -1px #121212,0 1px #121212;">Oklahoma</span>
<span class="t" style="left:707.00px;top:337.70px;font-size:10.42px;line-height:14px;color:#444444;letter-spacing:0.102px;font-weight:700;text-shadow:-1px 0 #121212,1px 0 #121212,0 -1px #121212,0 1px #121212;">City</span>
<span class="t" style="left:177.53px;top:372.30px;font-size:10.88px;line-height:14px;color:#404040;letter-spacing:0.323px;-webkit-text-stroke:0.25px #404040;text-shadow:-1px 0 #121212,1px 0 #121212,0 -1px #121212,0 1px #121212;">LOS ANGELES</span>
<span class="t" style="left:353.80px;top:388.50px;font-size:10.42px;line-height:14px;color:#444444;letter-spacing:0.378px;font-weight:700;text-shadow:-1px 0 #121212,1px 0 #121212,0 -1px #121212,0 1px #121212;">Phoenix</span>
<span class="t" style="left:228.12px;top:408.70px;font-size:9.97px;line-height:14px;color:#414141;letter-spacing:0.399px;-webkit-text-stroke:0.25px #414141;text-shadow:-1px 0 #121212,1px 0 #121212,0 -1px #121212,0 1px #121212;">San Diego</span>
<span class="t" style="left:1185.00px;top:34.70px;font-size:10.42px;line-height:14px;color:#444444;letter-spacing:0.939px;font-weight:700;text-shadow:-1px 0 #121212,1px 0 #121212,0 -1px #121212,0 1px #121212;">Ottawa</span>
<span class="t" style="left:1277.00px;top:31.50px;font-size:10.42px;line-height:14px;color:#444444;letter-spacing:0.221px;font-weight:700;text-shadow:-1px 0 #121212,1px 0 #121212,0 -1px #121212,0 1px #121212;">Montreal</span>
<span class="t" style="left:1084.00px;top:90.80px;font-size:11.33px;line-height:14px;color:#484848;letter-spacing:0.067px;font-weight:700;text-shadow:-1px 0 #121212,1px 0 #121212,0 -1px #121212,0 1px #121212;">TORONTO</span>
<span class="t" style="left:890.40px;top:109.60px;font-size:10.42px;line-height:14px;color:#444444;letter-spacing:0.350px;font-weight:700;text-shadow:-1px 0 #121212,1px 0 #121212,0 -1px #121212,0 1px #121212;">Milwaukee</span>
<span class="t" style="left:1114.00px;top:114.00px;font-size:10.42px;line-height:14px;color:#444444;letter-spacing:0.493px;font-weight:700;text-shadow:-1px 0 #121212,1px 0 #121212,0 -1px #121212,0 1px #121212;">Buffalo</span>
<span class="t" style="left:898.50px;top:146.00px;font-size:11.33px;line-height:14px;color:#484848;letter-spacing:0.170px;font-weight:700;text-shadow:-1px 0 #121212,1px 0 #121212,0 -1px #121212,0 1px #121212;">CHICAGO</span>
<span class="t" style="left:757.50px;top:154.50px;font-size:10.42px;line-height:14px;color:#444444;letter-spacing:0.174px;font-weight:700;text-shadow:-1px 0 #121212,1px 0 #121212,0 -1px #121212,0 1px #121212;">Des Moines</span>
<span class="t" style="left:1036.80px;top:157.70px;font-size:10.42px;line-height:14px;color:#444444;letter-spacing:0.327px;font-weight:700;text-shadow:-1px 0 #121212,1px 0 #121212,0 -1px #121212,0 1px #121212;">Cleveland</span>
<span class="t" style="left:1294.00px;top:131.20px;font-size:10.42px;line-height:14px;color:#444444;letter-spacing:0.031px;font-weight:700;text-shadow:-1px 0 #121212,1px 0 #121212,0 -1px #121212,0 1px #121212;">Boston</span>
<span class="t" style="left:1198.40px;top:181.50px;font-size:11.33px;line-height:14px;color:#484848;letter-spacing:0.216px;font-weight:700;text-shadow:-1px 0 #121212,1px 0 #121212,0 -1px #121212,0 1px #121212;">NEW YORK</span>
<span class="t" style="left:1071.40px;top:189.60px;font-size:10.42px;line-height:14px;color:#444444;letter-spacing:0.356px;font-weight:700;text-shadow:-1px 0 #121212,1px 0 #121212,0 -1px #121212,0 1px #121212;">Pittsburgh</span>
<span class="t" style="left:1170.60px;top:204.00px;font-size:10.42px;line-height:14px;color:#444444;letter-spacing:0.420px;font-weight:700;text-shadow:-1px 0 #121212,1px 0 #121212,0 -1px #121212,0 1px #121212;">Philadelphia</span>
<span class="t" style="left:970.30px;top:228.60px;font-size:10.42px;line-height:14px;color:#444444;letter-spacing:0.308px;font-weight:700;text-shadow:-1px 0 #121212,1px 0 #121212,0 -1px #121212,0 1px #121212;">Cincinnati</span>
<span class="t" style="left:851.30px;top:242.60px;font-size:10.26px;line-height:14px;color:#444444;font-weight:700;text-shadow:-1px 0 #121212,1px 0 #121212,0 -1px #121212,0 1px #121212;">St. Louis</span>
<span class="t" style="left:1113.00px;top:235.40px;font-size:11.33px;line-height:14px;color:#484848;letter-spacing:0.351px;font-weight:700;text-shadow:-1px 0 #121212,1px 0 #121212,0 -1px #121212,0 1px #121212;">WASHINGTON</span>
<span class="t" style="left:1171.50px;top:293.70px;font-size:10.42px;line-height:14px;color:#444444;letter-spacing:0.338px;font-weight:700;text-shadow:-1px 0 #121212,1px 0 #121212,0 -1px #121212,0 1px #121212;">Norfolk</span>
<span class="t" style="left:924.50px;top:313.50px;font-size:10.42px;line-height:14px;color:#444444;letter-spacing:0.195px;font-weight:700;text-shadow:-1px 0 #121212,1px 0 #121212,0 -1px #121212,0 1px #121212;">Nashville</span>
<span class="t" style="left:1117.60px;top:324.70px;font-size:10.42px;line-height:14px;color:#444444;letter-spacing:0.297px;font-weight:700;text-shadow:-1px 0 #121212,1px 0 #121212,0 -1px #121212,0 1px #121212;">Raleigh</span>
<span class="t" style="left:849.00px;top:341.30px;font-size:10.42px;line-height:14px;color:#444444;letter-spacing:0.447px;font-weight:700;text-shadow:-1px 0 #121212,1px 0 #121212,0 -1px #121212,0 1px #121212;">Memphis</span>
<span class="t" style="left:973.90px;top:379.50px;font-size:11.33px;line-height:14px;color:#484848;letter-spacing:0.054px;font-weight:700;text-shadow:-1px 0 #121212,1px 0 #121212,0 -1px #121212,0 1px #121212;">ATLANTA</span>
<span class="t" style="left:712.00px;top:406.50px;font-size:10.42px;line-height:14px;color:#444444;letter-spacing:0.252px;font-weight:700;text-shadow:-1px 0 #121212,1px 0 #121212,0 -1px #121212,0 1px #121212;">Dallas</span>
<span class="t" style="left:851.80px;top:419.50px;font-size:10.42px;line-height:14px;color:#444444;letter-spacing:0.187px;font-weight:700;text-shadow:-1px 0 #121212,1px 0 #121212,0 -1px #121212,0 1px #121212;">Jackson</span>
<span class="t" style="left:642.00px;top:496.00px;font-size:10.42px;line-height:14px;color:#444444;letter-spacing:0.204px;font-weight:700;text-shadow:-1px 0 #121212,1px 0 #121212,0 -1px #121212,0 1px #121212;">San Antonio</span>
<span class="t" style="left:476.00px;top:511.50px;font-size:10.42px;line-height:14px;color:#444444;letter-spacing:0.128px;font-weight:700;text-shadow:-1px 0 #121212,1px 0 #121212,0 -1px #121212,0 1px #121212;">Chihuahua</span>
<span class="t" style="left:512.00px;top:521.90px;font-size:10.05px;line-height:14px;color:#444444;font-weight:700;text-shadow:-1px 0 #121212,1px 0 #121212,0 -1px #121212,0 1px #121212;">City</span>
<span class="t" style="left:384.00px;top:539.00px;font-size:11.74px;line-height:14px;color:#383838;letter-spacing:1.885px;font-style:italic;text-shadow:-1px 0 #121212,1px 0 #121212,0 -1px #121212,0 1px #121212;">Gulf of</span>
<span class="t" style="left:371.80px;top:551.00px;font-size:11.74px;line-height:14px;color:#383838;letter-spacing:2.184px;font-style:italic;text-shadow:-1px 0 #121212,1px 0 #121212,0 -1px #121212,0 1px #121212;">California</span>
<span class="t" style="left:590.50px;top:592.40px;font-size:11.33px;line-height:14px;color:#484848;letter-spacing:0.113px;font-weight:700;text-shadow:-1px 0 #121212,1px 0 #121212,0 -1px #121212,0 1px #121212;">MONTERREY</span>
<span class="t" style="left:599.50px;top:643.00px;font-size:13.14px;line-height:14px;color:#3e3e3e;letter-spacing:0.686px;font-weight:700;text-shadow:-1px 0 #121212,1px 0 #121212,0 -1px #121212,0 1px #121212;">MEXICO</span>
<span class="t" style="left:477.43px;top:654.30px;font-size:9.97px;line-height:14px;color:#414141;letter-spacing:0.939px;-webkit-text-stroke:0.25px #414141;text-shadow:-1px 0 #121212,1px 0 #121212,0 -1px #121212,0 1px #121212;">Mazatlán</span>
<span class="t" style="left:675.70px;top:679.00px;font-size:10.42px;line-height:14px;color:#444444;letter-spacing:0.317px;font-weight:700;text-shadow:-1px 0 #121212,1px 0 #121212,0 -1px #121212,0 1px #121212;">Tampico</span>
<span class="t" style="left:533.62px;top:717.20px;font-size:9.97px;line-height:14px;color:#414141;letter-spacing:1.191px;-webkit-text-stroke:0.25px #414141;text-shadow:-1px 0 #121212,1px 0 #121212,0 -1px #121212,0 1px #121212;">Guadalajara</span>
<span class="t" style="left:617.40px;top:746.40px;font-size:11.33px;line-height:14px;color:#484848;letter-spacing:0.296px;font-weight:700;text-shadow:-1px 0 #121212,1px 0 #121212,0 -1px #121212,0 1px #121212;">MEXICO CITY</span>
<span class="t" style="left:717.00px;top:756.40px;font-size:10.28px;line-height:14px;color:#444444;font-weight:700;text-shadow:-1px 0 #121212,1px 0 #121212,0 -1px #121212,0 1px #121212;">Puebla City</span>
<span class="t" style="left:625.62px;top:807.90px;font-size:9.97px;line-height:14px;color:#414141;letter-spacing:0.868px;-webkit-text-stroke:0.25px #414141;text-shadow:-1px 0 #121212,1px 0 #121212,0 -1px #121212,0 1px #121212;">Acapulco</span>
<span class="t" style="left:718.90px;top:487.30px;font-size:11.33px;line-height:14px;color:#484848;letter-spacing:0.279px;font-weight:700;text-shadow:-1px 0 #121212,1px 0 #121212,0 -1px #121212,0 1px #121212;">HOUSTON</span>
<span class="t" style="left:831.60px;top:482.30px;font-size:10.42px;line-height:14px;color:#444444;letter-spacing:0.205px;font-weight:700;text-shadow:-1px 0 #121212,1px 0 #121212,0 -1px #121212,0 1px #121212;">New Orleans</span>
<span class="t" style="left:1033.72px;top:534.40px;font-size:9.97px;line-height:14px;color:#414141;letter-spacing:1.685px;-webkit-text-stroke:0.25px #414141;text-shadow:-1px 0 #121212,1px 0 #121212,0 -1px #121212,0 1px #121212;">Tampa</span>
<span class="t" style="left:1084.80px;top:589.70px;font-size:11.33px;line-height:14px;color:#484848;letter-spacing:0.797px;font-weight:700;text-shadow:-1px 0 #121212,1px 0 #121212,0 -1px #121212,0 1px #121212;">MIAMI</span>
<span class="t" style="left:884.00px;top:590.00px;font-size:11.74px;line-height:14px;color:#383838;letter-spacing:2.235px;font-style:italic;text-shadow:-1px 0 #121212,1px 0 #121212,0 -1px #121212,0 1px #121212;">Golfo</span>
<span class="t" style="left:893.50px;top:602.70px;font-size:11.74px;line-height:14px;color:#383838;letter-spacing:3.969px;font-style:italic;text-shadow:-1px 0 #121212,1px 0 #121212,0 -1px #121212,0 1px #121212;">de</span>
<span class="t" style="left:878.70px;top:614.80px;font-size:11.74px;line-height:14px;color:#383838;letter-spacing:2.177px;font-style:italic;text-shadow:-1px 0 #121212,1px 0 #121212,0 -1px #121212,0 1px #121212;">México</span>
<span class="t" style="left:1162.50px;top:608.50px;font-size:10.42px;line-height:14px;color:#3c3c3c;letter-spacing:0.330px;font-weight:700;text-shadow:-1px 0 #121212,1px 0 #121212,0 -1px #121212,0 1px #121212;">THE</span>
<span class="t" style="left:1145.40px;top:619.30px;font-size:10.42px;line-height:14px;color:#3c3c3c;letter-spacing:0.342px;font-weight:700;text-shadow:-1px 0 #121212,1px 0 #121212,0 -1px #121212,0 1px #121212;">BAHAMAS</span>
<span class="t" style="left:1033.72px;top:655.20px;font-size:9.97px;line-height:14px;color:#414141;letter-spacing:0.751px;-webkit-text-stroke:0.25px #414141;text-shadow:-1px 0 #121212,1px 0 #121212,0 -1px #121212,0 1px #121212;">Havana</span>
<span class="t" style="left:1090.70px;top:658.80px;font-size:11.78px;line-height:14px;color:#3e3e3e;letter-spacing:0.319px;font-weight:700;text-shadow:-1px 0 #121212,1px 0 #121212,0 -1px #121212,0 1px #121212;">CUBA</span>
<span class="t" style="left:870.73px;top:708.70px;font-size:9.97px;line-height:14px;color:#414141;letter-spacing:1.128px;-webkit-text-stroke:0.25px #414141;text-shadow:-1px 0 #121212,1px 0 #121212,0 -1px #121212,0 1px #121212;">Mérida</span>
<span class="t" style="left:930.40px;top:704.60px;font-size:10.42px;line-height:14px;color:#444444;letter-spacing:0.272px;font-weight:700;text-shadow:-1px 0 #121212,1px 0 #121212,0 -1px #121212,0 1px #121212;">Cancún</span>
<span class="t" style="left:1313.00px;top:749.00px;font-size:11.33px;line-height:14px;color:#3e3e3e;letter-spacing:0.789px;font-weight:700;text-shadow:-1px 0 #121212,1px 0 #121212,0 -1px #121212,0 1px #121212;">DOMINICAN</span>
<span class="t" style="left:1318.80px;top:759.90px;font-size:11.33px;line-height:14px;color:#3e3e3e;letter-spacing:0.329px;font-weight:700;text-shadow:-1px 0 #121212,1px 0 #121212,0 -1px #121212,0 1px #121212;">REPUBLIC</span>
<span class="t" style="left:1258.12px;top:763.00px;font-size:9.97px;line-height:14px;color:#414141;letter-spacing:0.394px;-webkit-text-stroke:0.25px #414141;text-shadow:-1px 0 #121212,1px 0 #121212,0 -1px #121212,0 1px #121212;">Port-au-</span>
<span class="t" style="left:1267.12px;top:772.00px;font-size:9.97px;line-height:14px;color:#414141;letter-spacing:0.307px;-webkit-text-stroke:0.25px #414141;text-shadow:-1px 0 #121212,1px 0 #121212,0 -1px #121212,0 1px #121212;">Prince</span>
<span class="t" style="left:1160.00px;top:776.50px;font-size:11.78px;line-height:14px;color:#3e3e3e;letter-spacing:0.047px;font-weight:700;text-shadow:-1px 0 #121212,1px 0 #121212,0 -1px #121212,0 1px #121212;">JAMAICA</span>
<span class="t" style="left:909.00px;top:801.20px;font-size:11.33px;line-height:14px;color:#3e3e3e;letter-spacing:0.253px;font-weight:700;text-shadow:-1px 0 #121212,1px 0 #121212,0 -1px #121212,0 1px #121212;">BELIZE</span>
<span class="t" style="left:746.00px;top:810.00px;font-size:10.42px;line-height:14px;color:#444444;letter-spacing:0.229px;font-weight:700;text-shadow:-1px 0 #121212,1px 0 #121212,0 -1px #121212,0 1px #121212;">Tuxtla Gutiérrez</span>
<span class="t" style="left:851.80px;top:838.40px;font-size:12.24px;line-height:14px;color:#3e3e3e;letter-spacing:0.446px;font-weight:700;text-shadow:-1px 0 #121212,1px 0 #121212,0 -1px #121212,0 1px #121212;">GUATEMALA</span>
<span class="t" style="left:954.60px;top:846.00px;font-size:11.78px;line-height:14px;color:#3e3e3e;letter-spacing:0.187px;font-weight:700;text-shadow:-1px 0 #121212,1px 0 #121212,0 -1px #121212,0 1px #121212;">HONDURAS</span>
<span class="t" style="left:830.12px;top:855.50px;font-size:9.97px;line-height:14px;color:#414141;letter-spacing:0.800px;-webkit-text-stroke:0.25px #414141;text-shadow:-1px 0 #121212,1px 0 #121212,0 -1px #121212,0 1px #121212;">Guatemala</span>
<span class="t" style="left:865.12px;top:865.80px;font-size:9.97px;line-height:14px;color:#414141;letter-spacing:1.034px;-webkit-text-stroke:0.25px #414141;text-shadow:-1px 0 #121212,1px 0 #121212,0 -1px #121212,0 1px #121212;">City</span>
<span class="t" style="left:964.80px;top:873.50px;font-size:10.42px;line-height:14px;color:#444444;letter-spacing:0.288px;font-weight:700;text-shadow:-1px 0 #121212,1px 0 #121212,0 -1px #121212,0 1px #121212;">Tegucigalpa</span>
<span class="t" style="left:917.80px;top:873.00px;font-size:10.67px;line-height:14px;color:#3c3c3c;letter-spacing:-0.458px;font-weight:700;text-shadow:-1px 0 #121212,1px 0 #121212,0 -1px #121212,0 1px #121212;">EL</span>
<span class="t" style="left:892.00px;top:884.70px;font-size:11.33px;line-height:14px;color:#3c3c3c;letter-spacing:0.448px;font-weight:700;text-shadow:-1px 0 #121212,1px 0 #121212,0 -1px #121212,0 1px #121212;">SALVADOR</span>
<span class="t" style="left:959.50px;top:913.90px;font-size:11.78px;line-height:14px;color:#3e3e3e;letter-spacing:0.066px;font-weight:700;text-shadow:-1px 0 #121212,1px 0 #121212,0 -1px #121212,0 1px #121212;">NICARAGUA</span>
<span class="t" style="left:1205.00px;top:845.20px;font-size:11.74px;line-height:14px;color:#383838;letter-spacing:2.485px;font-style:italic;text-shadow:-1px 0 #121212,1px 0 #121212,0 -1px #121212,0 1px #121212;">Caribbean</span>
<span class="t" style="left:1230.00px;top:857.70px;font-size:11.74px;line-height:14px;color:#383838;letter-spacing:1.851px;font-style:italic;text-shadow:-1px 0 #121212,1px 0 #121212,0 -1px #121212,0 1px #121212;">Sea</span>
<span class="t" style="left:1336.70px;top:910.30px;font-size:10.42px;line-height:14px;color:#3c3c3c;letter-spacing:0.371px;font-weight:700;text-shadow:-1px 0 #121212,1px 0 #121212,0 -1px #121212,0 1px #121212;">ARUBA</span>
<svg class="i" style="left:0;top:0" width="1393" height="930" viewBox="0 0 1393 930">
<circle cx="4.3" cy="142.8" r="10.2" fill="#2d61bc" stroke="#4e8ef5" stroke-width="2"/>
<circle cx="295.5" cy="101.8" r="13.2" fill="#e23d3f" stroke="#ee4c4c" stroke-width="2"/>
<circle cx="399.8" cy="172.3" r="10.6" fill="#e23d3f" stroke="#ee4c4c" stroke-width="2"/>
<circle cx="176.0" cy="281.0" r="13.4" fill="#e23d3f" stroke="#ee4c4c" stroke-width="2"/>
<circle cx="259.5" cy="308.8" r="15.2" fill="#d3651b" stroke="#f4853c" stroke-width="2"/>
<circle cx="515.5" cy="308.8" r="10.4" fill="#2d61bc" stroke="#4e8ef5" stroke-width="2"/>
<circle cx="285.6" cy="421.1" r="10.4" fill="#2d61bc" stroke="#4e8ef5" stroke-width="2"/>
<circle cx="524.5" cy="442.6" r="10.4" fill="#2d61bc" stroke="#4e8ef5" stroke-width="2"/>
<circle cx="515.5" cy="462.5" r="10.4" fill="#2d61bc" stroke="#4e8ef5" stroke-width="2"/>
<circle cx="771.8" cy="308.8" r="13.2" fill="#b88e13" stroke="#ecbb2e" stroke-width="2"/>
<circle cx="1027.8" cy="308.8" r="13.2" fill="#d3651b" stroke="#f4853c" stroke-width="2"/>
<circle cx="1027.8" cy="143.0" r="13.2" fill="#b88e13" stroke="#ecbb2e" stroke-width="2"/>
<circle cx="1052.0" cy="138.9" r="10.4" fill="#e23d3f" stroke="#ee4c4c" stroke-width="2"/>
<circle cx="1284.0" cy="143.0" r="13.2" fill="#d3651b" stroke="#f4853c" stroke-width="2"/>
<circle cx="1264.8" cy="182.2" r="10.4" fill="#ecb31c" stroke="#f0b820" stroke-width="2"/>
<circle cx="1266.6" cy="185.2" r="10.4" fill="#ecb31c" stroke="#f0b820" stroke-width="2"/>
<circle cx="1156.1" cy="250.0" r="10.4" fill="#b88e13" stroke="#ecbb2e" stroke-width="2"/>
<circle cx="1029.8" cy="476.0" r="10.6" fill="#ecb31c" stroke="#f0b820" stroke-width="2"/>
<circle cx="388.0" cy="678.0" r="15.2" fill="#e23d3f" stroke="#ee4c4c" stroke-width="2"/>
<circle cx="595.9" cy="726.8" r="13.2" fill="#2d61bc" stroke="#4e8ef5" stroke-width="2"/>
<circle cx="680.9" cy="730.4" r="13.2" fill="#e23d3f" stroke="#ee4c4c" stroke-width="2"/>
<circle cx="687.5" cy="752.5" r="10.0" fill="#e23d3f" stroke="#ee4c4c" stroke-width="2"/>
<circle cx="700.8" cy="738.0" r="10.2" fill="#b88e13" stroke="#ecbb2e" stroke-width="2"/>
<circle cx="692.0" cy="763.7" r="10.2" fill="#d79a14" stroke="#f3c234" stroke-width="2"/>
<circle cx="772.0" cy="746.8" r="13.2" fill="#d3651b" stroke="#f4853c" stroke-width="2"/>
<circle cx="1123.9" cy="680.6" r="10.4" fill="#e23d3f" stroke="#ee4c4c" stroke-width="2"/>
<circle cx="1159.8" cy="692.3" r="10.4" fill="#b88e13" stroke="#ecbb2e" stroke-width="2"/>
<circle cx="1203.8" cy="730.0" r="13.2" fill="#b88e13" stroke="#ecbb2e" stroke-width="2"/>
<circle cx="1200.7" cy="734.5" r="10.4" fill="#3d7de4" stroke="#4486ee" stroke-width="2"/>
<circle cx="1283.7" cy="747.1" r="13.2" fill="#d3651b" stroke="#f4853c" stroke-width="2"/>
</svg>
</main>
<section id="overlays">
<div class="b" style="left:16.00px;top:95.00px;width:120.00px;height:70.00px;background:#11151f;border:1px solid #282d3a;border-radius:9px;box-sizing:border-box;box-shadow:0 4px 12px rgba(0,0,0,.4);"></div>
<span class="t" style="left:33.50px;top:104.00px;font-size:14.79px;line-height:20px;color:#94a3b8;">Active Zones</span>
<span class="t" style="left:33.50px;top:121.40px;font-size:26.78px;line-height:36px;color:#ffffff;letter-spacing:0.374px;font-weight:700;">39</span>
<div class="b" style="left:313.60px;top:84.00px;width:171.70px;height:154.00px;background:#030817;border:1px solid #18202f;border-radius:12px;box-sizing:border-box;box-shadow:0 3px 14px rgba(0,0,0,.4);"></div>
<svg class="i" style="left:391.2px;top:237px" width="18" height="12" viewBox="0 0 18 12"><path d="M0 0 L9 10.2 L18 0 Z" fill="#030817"/><path d="M0 0.5 L9 10.2 L18 0.5" fill="none" stroke="#18202f" stroke-width="1"/></svg>
<span class="t" style="left:469.80px;top:82.50px;font-size:16px;line-height:22px;color:#5a6373;">×</span>
<span class="t" style="left:336.20px;top:99.40px;font-size:13.85px;line-height:20px;color:#ffffff;font-weight:700;">#9x26shr</span>
<span class="t" style="left:336.20px;top:123.30px;font-size:13.86px;line-height:20px;color:#eef2f7;">Messages</span>
<span class="t" style="left:400.20px;top:123.30px;font-size:14px;line-height:20px;color:#eef2f7;opacity:.12;">: 1</span>
<span class="t" style="left:336.20px;top:147.10px;font-size:13.36px;line-height:20px;color:#eef2f7;">Users (1h): 1</span>
<span class="t" style="left:336.20px;top:171.20px;font-size:14.12px;line-height:20px;color:#eef2f7;">Last: 6 minutes ago</span>
<div class="b" style="left:336.20px;top:199.30px;width:89.00px;height:23.50px;background:#3b7ff0;border-radius:4px;"></div>
<span class="t" style="left:344.20px;top:202.50px;font-size:11.8px;line-height:17px;color:#ffffff;">View Channel</span>
<div class="b" style="left:401.10px;top:95.70px;width:588.90px;height:45.00px;background:linear-gradient(90deg,rgba(7,9,15,.97) 0,rgba(7,9,15,.93) 5%,rgba(9,11,17,.62) 17%);-webkit-backdrop-filter:blur(9px);backdrop-filter:blur(9px);border:1px solid #1b1f29;border-radius:12px;box-sizing:border-box;box-shadow:0 6px 16px rgba(0,0,0,.3);"></div>
<svg class="i" style="left:411.50px;top:110.50px;" width="14.6" height="14.6" viewBox="0 0 24 24" fill="none" stroke="#8a95a8" stroke-width="2" stroke-linecap="round" stroke-linejoin="round"><path d="M12 6v6l4 2"/><circle cx="12" cy="12" r="10"/></svg>
<div class="b" style="left:430.30px;top:104.10px;width:61.30px;height:27.90px;background:#10b0d0;border-radius:6px;box-shadow:0 4px 10px rgba(6,182,212,.25);"></div>
<span class="t" style="left:443.35px;top:108.00px;font-size:14.57px;line-height:20px;color:#0b2d40;-webkit-text-stroke:0.3px #0b2d40;">5 Min</span>
<div class="b" style="left:495.50px;top:104.10px;width:65.50px;height:27.90px;background:#1a2333;border-radius:6px;"></div>
<span class="t" style="left:507.62px;top:108.00px;font-size:14.08px;line-height:20px;color:#b4bfd0;-webkit-text-stroke:0.25px #b4bfd0;">1 Hour</span>
<div class="b" style="left:565.90px;top:104.10px;width:76.40px;height:27.90px;background:#1a2333;border-radius:6px;"></div>
<span class="t" style="left:578.02px;top:108.00px;font-size:14.93px;line-height:20px;color:#b4bfd0;-webkit-text-stroke:0.25px #b4bfd0;">6 Hours</span>
<div class="b" style="left:646.90px;top:104.10px;width:85.20px;height:27.90px;background:#1a2333;border-radius:6px;"></div>
<span class="t" style="left:659.33px;top:108.00px;font-size:14.99px;line-height:20px;color:#b4bfd0;-webkit-text-stroke:0.25px #b4bfd0;">24 Hours</span>
<div class="b" style="left:740.40px;top:106.00px;width:1.00px;height:24.00px;background:#1f2530;"></div>
<div class="b" style="left:750.00px;top:104.10px;width:94.40px;height:27.90px;background:#1a2333;border-radius:6px;"></div>
<svg class="i" style="left:762.40px;top:111.00px;" width="14" height="14" viewBox="0 0 24 24" fill="none" stroke="#b4bfd0" stroke-width="2" stroke-linecap="round" stroke-linejoin="round"><path d="M3 12a9 9 0 0 1 9-9 9.75 9.75 0 0 1 6.74 2.74L21 8"/><path d="M21 3v5h-5"/><path d="M21 12a9 9 0 0 1-9 9 9.75 9.75 0 0 1-6.74-2.74L3 16"/><path d="M8 16H3v5"/></svg>
<span class="t" style="left:781.83px;top:108.00px;font-size:14.56px;line-height:20px;color:#b4bfd0;-webkit-text-stroke:0.25px #b4bfd0;">Refresh</span>
<div class="b" style="left:852.30px;top:106.00px;width:1.00px;height:24.00px;background:#1f2530;"></div>
<span class="t" style="left:862.00px;top:109.00px;font-size:12.79px;line-height:18px;color:#94a3b8;">95</span>
<span class="t" style="left:884.50px;top:109.00px;font-size:12.87px;line-height:18px;color:#94a3b8;">active</span>
<div class="b" style="left:927.70px;top:110.00px;width:1.00px;height:16.00px;background:#1f2530;"></div>
<span class="t" style="left:938.30px;top:109.00px;font-size:12.13px;line-height:18px;color:#94a3b8;">13s ago</span>
<div class="b" style="left:16.20px;top:786.40px;width:163.10px;height:204.80px;background:#11151f;border:1px solid #282d3a;border-radius:9px;box-sizing:border-box;box-shadow:0 4px 12px rgba(0,0,0,.4);"></div>
<span class="t" style="left:29.60px;top:800.70px;font-size:14.25px;line-height:21px;color:#ffffff;letter-spacing:-0.013px;font-weight:700;">Activity Timeline</span>
<svg class="i" style="left:147.70px;top:803.90px;" width="15" height="15" viewBox="0 0 24 24" fill="none" stroke="#c3cad6" stroke-width="2" stroke-linecap="round" stroke-linejoin="round"><path d="M18 6 6 18"/><path d="m6 6 12 12"/></svg>
<div class="b" style="left:29.00px;top:830.60px;width:16.00px;height:16.00px;background:#fe0303;border-radius:50%;"></div>
<span class="t" style="left:53.50px;top:829.60px;font-size:12.35px;line-height:18px;color:#cfd5df;letter-spacing:-0.049px;">&lt; 1 minute</span>
<div class="b" style="left:29.00px;top:852.63px;width:16.00px;height:16.00px;background:#fb2424;border-radius:50%;"></div>
<span class="t" style="left:53.50px;top:851.63px;font-size:12.38px;line-height:18px;color:#cfd5df;">1-2 minutes</span>
<div class="b" style="left:29.00px;top:874.66px;width:16.00px;height:16.00px;background:#f44343;border-radius:50%;"></div>
<span class="t" style="left:53.50px;top:873.66px;font-size:12.91px;line-height:18px;color:#cfd5df;">2-5 minutes</span>
<div class="b" style="left:29.00px;top:896.69px;width:16.00px;height:16.00px;background:#ea8b3c;border-radius:50%;"></div>
<span class="t" style="left:53.50px;top:895.69px;font-size:12.51px;line-height:18px;color:#cfd5df;">5-15 minutes</span>
<div class="b" style="left:29.00px;top:918.72px;width:16.00px;height:16.00px;background:#d9a91f;border-radius:50%;"></div>
<span class="t" style="left:53.50px;top:917.72px;font-size:12.63px;line-height:18px;color:#cfd5df;">15-30 minutes</span>
<div class="b" style="left:29.00px;top:940.75px;width:16.00px;height:16.00px;background:#3f84d8;border-radius:50%;"></div>
<span class="t" style="left:53.50px;top:939.75px;font-size:13.08px;line-height:18px;color:#cfd5df;">30-60 minutes</span>
<div class="b" style="left:29.00px;top:962.78px;width:16.00px;height:16.00px;background:#5c5f67;border-radius:50%;"></div>
<span class="t" style="left:53.50px;top:961.78px;font-size:12.82px;line-height:18px;color:#cfd5df;">&gt; 60 minutes</span>
</section>
<aside class="b" style="left:1392px;top:79px;width:597px;height:930px;background:#050912;border-left:1px solid #23272f;box-sizing:border-box;">
<div class="b" style="left:-2.50px;top:458.00px;width:7.00px;height:14.00px;background:#1d2330;border-radius:3px;border:1px solid #2a3140;box-sizing:border-box;"></div>
<svg class="i" style="left:-3.50px;top:460.50px;" width="9" height="9" viewBox="0 0 24 24" fill="none" stroke="#d0d5dd" stroke-width="3" stroke-linecap="round" stroke-linejoin="round"><circle cx="9" cy="12" r="1"/><circle cx="9" cy="5" r="1"/><circle cx="9" cy="19" r="1"/><circle cx="15" cy="12" r="1"/><circle cx="15" cy="5" r="1"/><circle cx="15" cy="19" r="1"/></svg>
<div class="b" style="left:13.00px;top:13.00px;width:343.00px;height:42.00px;border:2px solid #4fa6c0;border-radius:9px;box-sizing:border-box;background:#04070f;box-shadow:0 0 0 1px rgba(79,166,192,.45);"></div>
<svg class="i" style="left:28.70px;top:26.70px;" width="14.6" height="14.6" viewBox="0 0 24 24" fill="none" stroke="#8f9bad" stroke-width="2" stroke-linecap="round" stroke-linejoin="round"><path d="m21 21-4.34-4.34"/><circle cx="11" cy="11" r="8"/></svg>
<span class="t" style="left:53.30px;top:24.30px;font-size:14.37px;line-height:20px;color:#e8edf3;">#u0</span>
<div class="b" style="left:77.60px;top:26.00px;width:1.00px;height:16.50px;background:#e8edf3;"></div>
<svg class="i" style="left:329.50px;top:26.50px;" width="15" height="15" viewBox="0 0 24 24" fill="none" stroke="#8f9bad" stroke-width="2" stroke-linecap="round" stroke-linejoin="round"><path d="M18 6 6 18"/><path d="m6 6 12 12"/></svg>
<div class="b" style="left:361.20px;top:23.30px;width:81.80px;height:21.70px;background:#1c2536;border-radius:11px;"></div>
<svg class="i" style="left:371.95px;top:28.25px;" width="11.5" height="11.5" viewBox="0 0 24 24" fill="none" stroke="#f1f5f9" stroke-width="2" stroke-linecap="round" stroke-linejoin="round"><path d="M22 3H2l8 9.46V19l4 2v-8.54L22 3z"/></svg>
<span class="t" style="left:388.50px;top:25.00px;font-size:11.94px;line-height:18px;color:#ffffff;font-weight:700;">Filtered</span>
<div class="b" style="left:451.20px;top:23.30px;width:129.40px;height:21.70px;border:1px solid #1c2536;border-radius:11px;box-sizing:border-box;"></div>
<span class="t" style="left:462.30px;top:25.00px;font-size:12.31px;line-height:18px;color:#ffffff;font-weight:700;">Showing 8 of 1000</span>
<h2 class="t" style="left:16.40px;top:72.00px;font-size:16.46px;line-height:24px;color:#f8fafc;font-weight:700;">Channel: #u0</h2>
<svg class="i" style="left:554.15px;top:77.25px;" width="13.5" height="13.5" viewBox="0 0 24 24" fill="none" stroke="#a9b4c5" stroke-width="2" stroke-linecap="round" stroke-linejoin="round"><rect x="14" y="3" width="5" height="18" rx="1"/><rect x="5" y="3" width="5" height="18" rx="1"/></svg>
<span class="t" style="left:16.40px;top:112.90px;font-size:15.17px;line-height:20px;color:#94a3b8;">Active:</span>
<span class="t" style="left:80.70px;top:113.70px;font-size:13.12px;line-height:18px;color:#2fa4c4;letter-spacing:0.117px;font-weight:700;">#u0</span>
<div class="b" style="left:1.00px;top:149.50px;width:595.00px;height:1.00px;background:#161d2b;"></div>
<span class="t" style="left:26.36px;top:173.20px;font-size:14.5px;line-height:20px;color:#c43a5e;font-weight:700;">M</span>
<span class="t" style="left:60.35px;top:167.10px;font-size:14.44px;line-height:20px;color:#f1f5f9;-webkit-text-stroke:0.3px #f1f5f9;">maomao._.</span>
<span class="t" style="left:151.20px;top:167.90px;font-size:13.12px;line-height:18px;color:#a451e6;letter-spacing:0.117px;font-weight:700;">#u0</span>
<span class="t" style="left:192.20px;top:168.10px;font-size:12.74px;line-height:18px;color:#8f9aad;">6 minutes ago</span>
<p class="t" style="left:60.20px;top:191.20px;font-size:15.09px;line-height:20px;color:#e6eaf0;">hey</p>
<span class="t" style="left:27.56px;top:229.20px;font-size:14.5px;line-height:20px;color:#e0903c;font-weight:700;">P</span>
<span class="t" style="left:60.35px;top:223.10px;font-size:15.09px;line-height:20px;color:#f1f5f9;-webkit-text-stroke:0.3px #f1f5f9;">ppajaro9</span>
<span class="t" style="left:137.90px;top:223.90px;font-size:13.12px;line-height:18px;color:#a451e6;letter-spacing:0.117px;font-weight:700;">#u0</span>
<span class="t" style="left:178.90px;top:224.10px;font-size:12.64px;line-height:18px;color:#8f9aad;">5 minutes ago</span>
<p class="t" style="left:60.20px;top:247.20px;font-size:14.7px;line-height:20px;color:#e6eaf0;">@maomao._.#8468 hi</p>
<span class="t" style="left:26.36px;top:285.20px;font-size:14.5px;line-height:20px;color:#c43a5e;font-weight:700;">M</span>
<span class="t" style="left:60.35px;top:279.10px;font-size:14.44px;line-height:20px;color:#f1f5f9;-webkit-text-stroke:0.3px #f1f5f9;">maomao._.</span>
<span class="t" style="left:151.20px;top:279.90px;font-size:13.12px;line-height:18px;color:#a451e6;letter-spacing:0.117px;font-weight:700;">#u0</span>
<span class="t" style="left:192.20px;top:280.10px;font-size:12.68px;line-height:18px;color:#8f9aad;">5 minutes ago</span>
<p class="t" style="left:60.35px;top:303.20px;font-size:15.03px;line-height:20px;color:#e6eaf0;">wassup</p>
<span class="t" style="left:27.56px;top:341.20px;font-size:14.5px;line-height:20px;color:#e0903c;font-weight:700;">P</span>
<span class="t" style="left:60.35px;top:335.10px;font-size:15.09px;line-height:20px;color:#f1f5f9;-webkit-text-stroke:0.3px #f1f5f9;">ppajaro9</span>
<span class="t" style="left:137.90px;top:335.90px;font-size:13.12px;line-height:18px;color:#a451e6;letter-spacing:0.117px;font-weight:700;">#u0</span>
<span class="t" style="left:178.90px;top:336.10px;font-size:12.72px;line-height:18px;color:#8f9aad;">4 minutes ago</span>
<p class="t" style="left:60.20px;top:359.20px;font-size:14.81px;line-height:20px;color:#e6eaf0;">@maomao._.#8468 I'm doing well wassup?</p>
<span class="t" style="left:26.36px;top:397.20px;font-size:14.5px;line-height:20px;color:#c43a5e;font-weight:700;">M</span>
<span class="t" style="left:60.35px;top:391.10px;font-size:14.44px;line-height:20px;color:#f1f5f9;-webkit-text-stroke:0.3px #f1f5f9;">maomao._.</span>
<span class="t" style="left:151.20px;top:391.90px;font-size:13.12px;line-height:18px;color:#a451e6;letter-spacing:0.117px;font-weight:700;">#u0</span>
<span class="t" style="left:192.20px;top:392.10px;font-size:12.77px;line-height:18px;color:#8f9aad;">4 minutes ago</span>
<p class="t" style="left:60.20px;top:415.20px;font-size:14.72px;line-height:20px;color:#e6eaf0;">same here</p>
<span class="t" style="left:26.36px;top:453.20px;font-size:14.5px;line-height:20px;color:#c43a5e;font-weight:700;">M</span>
<span class="t" style="left:60.35px;top:447.10px;font-size:14.44px;line-height:20px;color:#f1f5f9;-webkit-text-stroke:0.3px #f1f5f9;">maomao._.</span>
<span class="t" style="left:151.20px;top:447.90px;font-size:13.12px;line-height:18px;color:#a451e6;letter-spacing:0.117px;font-weight:700;">#u0</span>
<span class="t" style="left:192.20px;top:448.10px;font-size:12.77px;line-height:18px;color:#8f9aad;">4 minutes ago</span>
<p class="t" style="left:60.20px;top:471.20px;font-size:14.26px;line-height:20px;color:#e6eaf0;">:)</p>
<span class="t" style="left:26.36px;top:509.20px;font-size:14.5px;line-height:20px;color:#c43a5e;font-weight:700;">M</span>
<span class="t" style="left:60.35px;top:503.10px;font-size:14.44px;line-height:20px;color:#f1f5f9;-webkit-text-stroke:0.3px #f1f5f9;">maomao._.</span>
<span class="t" style="left:151.20px;top:503.90px;font-size:13.12px;line-height:18px;color:#a451e6;letter-spacing:0.117px;font-weight:700;">#u0</span>
<span class="t" style="left:192.20px;top:504.10px;font-size:12.77px;line-height:18px;color:#8f9aad;">4 minutes ago</span>
<p class="t" style="left:60.35px;top:527.20px;font-size:15.07px;line-height:20px;color:#e6eaf0;">where're you from @ppajaro9#a039</p>
<span class="t" style="left:30.39px;top:565.20px;font-size:14.5px;line-height:20px;color:#35a3c4;font-weight:700;">I</span>
<span class="t" style="left:60.35px;top:559.10px;font-size:15.33px;line-height:20px;color:#f1f5f9;letter-spacing:0.052px;-webkit-text-stroke:0.3px #f1f5f9;">ildisi</span>
<span class="t" style="left:108.40px;top:559.90px;font-size:13.12px;line-height:18px;color:#a451e6;letter-spacing:0.117px;font-weight:700;">#u0</span>
<span class="t" style="left:149.40px;top:560.10px;font-size:12.68px;line-height:18px;color:#8f9aad;">less than a minute ago</span>
<p class="t" style="left:60.20px;top:583.20px;font-size:14.93px;line-height:20px;color:#e6eaf0;">Hello everyone I’m from Switzerland</p>
<div class="b" style="left:1.00px;top:829.60px;width:595.00px;height:1.00px;background:#161d2b;"></div>
<div class="b" style="left:16.60px;top:847.20px;width:564.20px;height:65.20px;border:1px solid #171e2c;border-radius:9px;box-sizing:border-box;background:#060a14;"></div>
<svg class="i" style="left:183.00px;top:862.80px;" width="14.6" height="14.6" viewBox="0 0 24 24" fill="none" stroke="#98a3b5" stroke-width="2" stroke-linecap="round" stroke-linejoin="round"><path d="M2.062 12.348a1 1 0 0 1 0-.696 10.75 10.75 0 0 1 19.876 0 1 1 0 0 1 0 .696 10.75 10.75 0 0 1-19.876 0"/><circle cx="12" cy="12" r="3"/></svg>
<span class="t" style="left:206.30px;top:860.00px;font-size:14.91px;line-height:20px;color:#98a3b5;">Read-only global stream viewer</span>
<span class="t" style="left:112.60px;top:882.90px;font-size:12.79px;line-height:18px;color:#8d98aa;">Messages are sourced from BitChat geohash channels worldwide</span>
</aside>
<footer class="b" style="left:0;top:1008px;width:1989px;height:32px;background:#050a18;border-top:1px solid #182030;box-sizing:border-box;">
<div class="b" style="left:15.60px;top:13.80px;width:6.40px;height:6.40px;background:#ec9a4e;border-radius:50%;"></div>
<span class="t" style="left:26.40px;top:6.90px;font-size:12.46px;line-height:18px;color:#9aa5b6;">Nostr: 241 relays</span>
<span class="t" style="left:136.60px;top:6.90px;font-size:12.64px;line-height:18px;color:#9aa5b6;">1000 messages loaded</span>
<span class="t" style="left:303.70px;top:8.70px;font-size:10.68px;line-height:15px;color:#adb6c4;">Thanks to Jack Dorsey for creating BitChat and championing open protocols</span>
<span class="t" style="left:1041.40px;top:8.70px;font-size:10.71px;line-height:15px;color:#adb6c4;font-style:italic;">Community fan site by Chris</span>
<span class="t" style="left:1202.60px;top:8.70px;font-size:10.67px;line-height:15px;color:#adb6c4;">Contact</span>
<span class="t" style="left:1267.30px;top:8.70px;font-size:10.77px;line-height:15px;color:#adb6c4;">Need audio transcription? Try AudioScriptPro.ai</span>
<span class="t" style="left:1521.90px;top:8.70px;font-size:10.59px;line-height:15px;color:#adb6c4;">Support BitChatExplorer development:</span>
<span class="t" style="left:1707.10px;top:9.20px;font-size:9.97px;line-height:14px;color:#8a94a5;font-family:'Liberation Mono',monospace;">bc1q0cfsn0ggn063a89l42ce7dd9c3lafjvd0ekg5l</span>
<div class="b" style="left:284.80px;top:10.50px;width:1.20px;height:13.00px;background:#b8c0cc;"></div>
<div class="b" style="left:1187.90px;top:10.50px;width:1.20px;height:13.00px;background:#b8c0cc;"></div>
<div class="b" style="left:1253.00px;top:10.50px;width:1.20px;height:13.00px;background:#b8c0cc;"></div>
<div class="b" style="left:1507.20px;top:10.50px;width:1.20px;height:13.00px;background:#b8c0cc;"></div>
</footer>
<div class="b" style="left:0;top:0;width:1px;height:1040px;background:rgba(40,44,52,.6);"></div>
<svg class="i" style="left:0;top:1024px" width="16" height="16" viewBox="0 0 16 16"><path d="M0 0 A16 16 0 0 0 16 16 L0 16 Z" fill="#dcdcdc"/></svg>
<svg class="i" style="left:1974px;top:1025px" width="15" height="15" viewBox="0 0 15 15"><path d="M15 0 A15 15 0 0 1 0 15 L15 15 Z" fill="#dcdcdc"/></svg>
</div></body></html>
